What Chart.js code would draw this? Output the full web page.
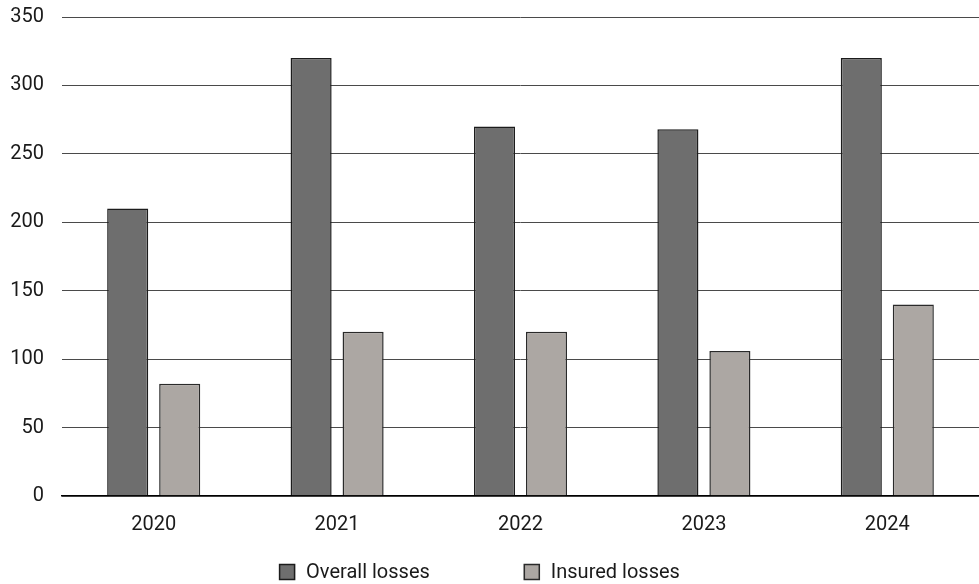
<!DOCTYPE html>
<html>
<head>
<meta charset="utf-8">
<title>Overall and insured losses 2020–2024</title>
<script src="https://cdn.jsdelivr.net/npm/chart.js@4.4.1/dist/chart.umd.min.js"></script>
<style>
  html, body { margin: 0; padding: 0; background: #ffffff; }
  #wrap { width: 979px; height: 584px; position: relative; }
</style>
</head>
<body>
<div id="wrap"><canvas id="chart" width="979" height="584"></canvas></div>
<script>
// Years shown on the x axis
const years = ['2020', '2021', '2022', '2023', '2024'];
// Losses per year
const overallLosses = [210, 320, 270, 268, 320];
const insuredLosses = [82, 120, 120, 106, 140];
// Series names for the legend
const seriesNames = ['Overall losses', 'Insured losses'];
// Value axis ticks
const yTicks = [0, 50, 100, 150, 200, 250, 300, 350];

const FONT = 'Roboto, "Liberation Sans", sans-serif';
const TEXT = '#1a1a1a';

// Legend drawn under the axis, two items spread apart
const bottomLegend = {
  id: 'bottomLegend',
  afterDraw(chart) {
    const ctx = chart.ctx;
    const box = 16, textGap = 11, itemGap = 94, y = 572;
    ctx.save();
    ctx.font = '20px ' + FONT;
    ctx.textBaseline = 'middle';
    ctx.textAlign = 'left';
    const items = chart.data.datasets.map(ds => ({
      label: ds.label, fill: ds.backgroundColor, stroke: ds.borderColor,
      w: ctx.measureText(ds.label).width
    }));
    let total = 0;
    items.forEach((it, i) => { total += box + textGap + it.w + (i ? itemGap : 0); });
    let x = chart.width / 2 - 10 - total / 2;
    items.forEach(it => {
      ctx.fillStyle = it.fill;
      ctx.fillRect(x, y - box / 2, box, box);
      ctx.strokeStyle = it.stroke;
      ctx.lineWidth = 1.5;
      ctx.strokeRect(x + 0.5, y - box / 2 + 0.5, box - 1, box - 1);
      ctx.fillStyle = TEXT;
      ctx.fillText(it.label, x + box + textGap, y + 1);
      x += box + textGap + it.w + itemGap;
    });
    ctx.restore();
  }
};

new Chart(document.getElementById('chart'), {
  type: 'bar',
  data: {
    labels: years,
    datasets: [
      {
        label: seriesNames[0],
        data: overallLosses,
        backgroundColor: '#6e6e6e',
        borderColor: '#1c1c1c',
        borderWidth: 1.5,
        categoryPercentage: 0.567,
        barPercentage: 0.79
      },
      {
        label: seriesNames[1],
        data: insuredLosses,
        backgroundColor: '#aca7a3',
        borderColor: '#2a2a2a',
        borderWidth: 1.5,
        categoryPercentage: 0.567,
        barPercentage: 0.79
      }
    ]
  },
  options: {
    responsive: false,
    animation: false,
    layout: { padding: { top: 17, right: 0, bottom: 0, left: 0 } },
    plugins: {
      legend: { display: false },
      tooltip: { enabled: false }
    },
    scales: {
      x: {
        grid: { display: false, drawTicks: false },
        border: { display: true, color: '#000000', width: 1.5 },
        ticks: { color: TEXT, font: { family: FONT, size: 20 }, padding: 17 },
        afterFit(scale) { scale.height = 88; scale.paddingLeft = 0; scale.paddingRight = 0; }
      },
      y: {
        min: yTicks[0],
        max: yTicks[yTicks.length - 1],
        afterBuildTicks(scale) { scale.ticks = yTicks.map(v => ({ value: v })); },
        grid: {
          drawTicks: false,
          color: ctx => ctx.tick && ctx.tick.value === 0 ? '#000000' : '#4a4a4a',
          lineWidth: ctx => ctx.tick && ctx.tick.value === 0 ? 1.5 : 1
        },
        border: { display: false },
        ticks: { color: TEXT, font: { family: FONT, size: 20 }, padding: 18 },
        afterFit(scale) { scale.width = 62; scale.paddingTop = 0; scale.paddingBottom = 0; }
      }
    }
  },
  plugins: [bottomLegend]
});
</script>
</body>
</html>
